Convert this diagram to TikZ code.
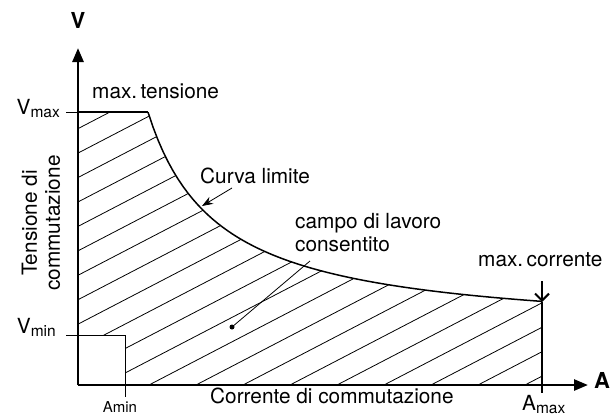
\documentclass[tikz,border=0pt]{standalone}
\usepackage{fontspec}
\setmainfont{TeX Gyre Heros}
\usetikzlibrary{arrows.meta,calc}

\newcommand{\lowtxt}[1]{\raisebox{-0.3ex}{\fontsize{15.5}{15.5}\selectfont #1}}

\begin{document}
\begin{tikzpicture}
[
	              x = 1pt,
	              y = -1pt,
	           font = \fontsize{20.8}{23}\selectfont,
	     axis/.style = { line width=2.6pt, -{Triangle[length=14pt,width=11pt]} },
	    bound/.style = { line width=1.5pt },
	    hatch/.style = { line width=0.8pt },
	     tick/.style = { line width=0.7pt },
	    label/.style = { draw=none, fill=none, inner sep=0pt },
	  axlabel/.style = { label, font=\fontsize{22}{22}\selectfont\bfseries }
]
	\useasboundingbox (0,0) rectangle (616,418);

	\coordinate (O)     at (78,385);
	\coordinate (ytop)  at (78,48);
	\coordinate (xend)  at (588,385);
	\coordinate (vmax)  at (78,112);
	\coordinate (vmin)  at (78,335);
	\coordinate (amin)  at (125,385);
	\coordinate (amax)  at (542,385);
	\coordinate (knee)  at (148,112);
	\coordinate (cend)  at (542,302);
	\coordinate (sqc)   at (125,335);

	% hatching of the working area
	\begin{scope}
		\clip (vmax) -- (knee) -- plot[domain=148:542, samples=80] (\x, {335-15600/(\x-78)})
			-- (amax) -- (amin) -- (sqc) -- (vmin) -- cycle;
		\foreach \k in {-10,...,11}
			\draw [hatch] ({8+47*\k},385) -- ++(700,-364);
	\end{scope}

	% limits
	\draw [bound] (vmax) -- (knee);
	\draw [bound] plot[domain=148:542, samples=80] (\x, {335-15600/(\x-78)});
	\draw [bound] (cend) -- (542,393);
	\draw [tick] (vmin) -| (amin);
	\draw [tick] (amin) -- ++(0,12);
	\draw [tick] (vmax) -- ++(-12,0);
	\draw [tick] (vmin) -- ++(-12,0);

	% axes
	\draw [axis] (O) -- (ytop);
	\draw [axis] (O) -- (xend);
	\node (V) at (78,20)  [axlabel] {V};
	\node (A) at (602,380) [axlabel] {A};

	\node (vmaxlab) at (60,114) [label, anchor=base east] {V\lowtxt{max}};
	\node (vminlab) at (56,333) [label, anchor=base east] {V\lowtxt{min}};
	\node (aminlab) at (120,412) [label, anchor=base, font=\fontsize{15}{15}\selectfont] {Amin};
	\node (amaxlab) at (522,410) [label, anchor=base west] {A\lowtxt{max}};

	\node (xlab) at (210,403) [label, anchor=base west] {Corrente di commutazione};
	\node (ylab) at (41,223)  [label, rotate=90, align=center] {Tensione di\\commutazione};

	\node (maxv) at (92,98)   [label, anchor=base west] {max.\,tensione};
	\node (maxa) at (478,266) [label, anchor=base west] {max.\,corrente};
	\node (curv) at (200,183) [label, anchor=base west] {Curva limite};
	\node (campo) at (295,213) [label, anchor=north west, align=left] {campo di lavoro\\consentito};

	% pointers
	\coordinate (ctail) at (232,188);
	\coordinate (ctip)  at (202,206);
	\draw [line width=0.8pt, -{Stealth[length=11pt,width=8pt]}] (ctail) -- (ctip);

	\coordinate (atail) at (542,281);
	\draw [line width=2pt, -{Straight Barb[length=7pt,width=14pt]}] (atail) -- (cend);

	\coordinate (dot)   at (232,327);
	\coordinate (ltail) at (310,261);
	\fill (dot) circle (2.5);
	\draw [line width=0.8pt] (dot) -- (ltail);

\end{tikzpicture}
\end{document}
